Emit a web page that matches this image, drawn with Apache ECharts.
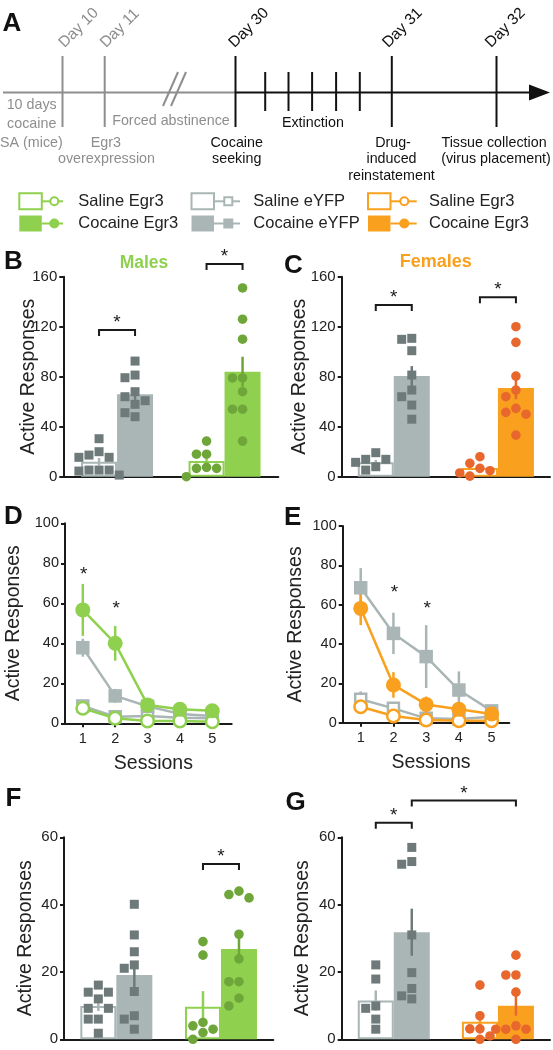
<!DOCTYPE html>
<html><head><meta charset="utf-8">
<script src="https://cdn.jsdelivr.net/npm/echarts@6/dist/echarts.min.js"></script>
<style>html,body{margin:0;padding:0;background:#fff}#c{width:553px;height:1050px}</style>
</head><body><div id="c"></div>
<script>
// ---------------- data ----------------
const groups = ['eYFP', 'Egr3'];
const sessions = [1, 2, 3, 4, 5];

// B: males, cocaine seeking (order per array: [eYFP, Egr3])
const bSalineMean = [12, 12.5];
const bSalineSem = [3, 4];
const bCocaineMean = [66, 84];
const bCocaineSem = [4.5, 12];
const bSalEyfpPts = [30.4, 20, 15.5, 15.5, 17.3, 5.3, 4.5, 5.3, 5.3, 1.3];
const bCocEyfpPts = [92.5, 81.3, 79.2, 68, 64, 60.8, 57.9, 51.2, 48];
const bSalEgr3Pts = [28.5, 18, 18, 6.7, 6.7, 7.5, 0];
const bCocEgr3Pts = [151, 126, 110, 79, 79, 68, 54, 54, 28.5];
const bBrackets = [[0, 1, 117.4], [2, 3, 170.2]];

// C: females, cocaine seeking
const cSalineMean = [11.5, 7];
const cSalineSem = [2, 2.5];
const cCocaineMean = [80.5, 71];
const cCocaineSem = [8, 9];
const cSalEyfpPts = [13.9, 11.5, 13.9, 19.2, 5.3, 8];
const cCocEyfpPts = [110.7, 109.9, 100.8, 81.3, 69.3, 64, 57.3, 46];
const cSalEgr3Pts = [16, 10.7, 4.8, 6.7, 0.5, 3];
const cCocEgr3Pts = [120, 107.5, 80.5, 69.3, 64, 54.7, 51.5, 50, 33.3];
const cBrackets = [[0, 1, 137.4], [2, 3, 143.6]];

// D: males, extinction sessions
const dSalEyfp = [8.7, 3.3, 3.7, 2.8, 2.5];
const dSalEyfpSem = [2, 0.8, 0.8, 0.6, 0.6];
const dCocEyfp = [37.8, 13.7, 8.5, 4.7, 3.7];
const dCocEyfpSem = [4.5, 3.5, 1.5, 1, 0.8];
const dSalEgr3 = [7.5, 2.5, 1.2, 1.2, 0.8];
const dSalEgr3Sem = [2, 0.8, 0.5, 0.4, 0.4];
const dCocEgr3 = [56.7, 40, 9.2, 7, 6.3];
const dCocEgr3Sem = [13, 8.7, 1.5, 1.5, 1.2];
const dStars = [[1, 76.7], [2, 60]];

// E: females, extinction sessions
const eSalEyfp = [11.9, 7.3, 2.2, 1.9, 3];
const eSalEyfpSem = [4, 1.5, 0.8, 0.6, 0.8];
const eCocEyfp = [68.6, 45.4, 33.6, 16.6, 6];
const eCocEyfpSem = [10, 10.5, 16, 9.5, 2];
const eSalEgr3 = [8.1, 3.4, 1.4, 1, 1];
const eSalEgr3Sem = [2, 0.8, 0.5, 0.4, 0.4];
const eCocEgr3 = [58.1, 19.2, 9.3, 6.8, 4.4];
const eCocEgr3Sem = [8.5, 6.5, 4, 2, 2];
const eStars = [[2, 68.8], [3, 60.7]];

// F: males, drug-induced reinstatement
const fSalineMean = [9.9, 9.7];
const fSalineSem = [1.5, 4.6];
const fCocaineMean = [19.1, 26.8];
const fCocaineSem = [4, 3.8];
const fSalEyfpPts = [14, 16.1, 14, 12, 9.2, 9.2, 6, 6, 1.8];
const fCocEyfpPts = [40.1, 31, 26, 22.1, 21.1, 14.2, 7, 6, 3];
const fSalEgr3Pts = [29, 25, 4, 3, 2, 5, 0];
const fCocEgr3Pts = [44, 42, 43, 31.2, 23.9, 17.1, 17.1, 12.2, 9.9];
const fBrackets = [[2, 3, 52.1]];

// G: females, drug-induced reinstatement
const gSalineMean = [11.5, 5.2];
const gSalineSem = [3, 2];
const gCocaineMean = [31.8, 10];
const gCocaineSem = [7, 3];
const gSalEyfpPts = [22.1, 17.9, 9.2, 9.9, 6, 3];
const gCocEyfpPts = [57, 52, 52.8, 31, 19.8, 15.1, 12, 12.9];
const gSalEgr3Pts = [16.1, 7, 3.1, 3.1, 1, 0];
const gCocEgr3Pts = [25, 19.1, 19.1, 14, 3, 3, 4, 0, 3];
const gBrackets = [[0, 1, 64.3], [1, 3, 70.9]];

// texts
const legendLabels = ['Saline Egr3', 'Cocaine Egr3', 'Saline eYFP', 'Cocaine eYFP', 'Saline Egr3', 'Cocaine Egr3'];
const dayLabels = ['Day 10', 'Day 11', 'Day 30', 'Day 31', 'Day 32'];

// ---------------- style ----------------
const FONT = '"Liberation Sans", Arial, Helvetica, sans-serif';
const INK = '#1a1a1a';
const GREEN = '#8fd14f', GRAY = '#a9b6b5', ORANGE = '#f9a01f';
const GREEN_PT = '#6ea63a', GRAY_PT = '#6e7a79', ORANGE_PT = '#e8672c';
const TL_GRAY = '#8e8e8e';
const BAR_W = 36;
const PT = 9;

const chart = echarts.init(document.getElementById('c'), null, {renderer: 'canvas'});

const grids = [], xAxes = [], yAxes = [], series = [];

function swarm(values, pxPerUnit) {
  const placed = [], offs = new Array(values.length).fill(0);
  const order = values.map((v, i) => i).sort((a, b) => values[b] - values[a]);
  const step = PT * 1.12;
  for (const i of order) {
    const y = values[i] * pxPerUnit;
    for (let k = 0; k < 30; k++) {
      const cand = k === 0 ? 0 : (k % 2 ? -1 : 1) * Math.ceil(k / 2) * step;
      if (placed.every(p => Math.hypot(p.x - cand, p.y - y) >= PT * 1.08)) {
        offs[i] = cand; placed.push({x: cand, y}); break;
      }
    }
  }
  return offs;
}

function yAxisCfg(gi, max, interval, nameGap, fs) {
  return {
    type: 'value', gridIndex: gi, min: 0, max: max, interval: interval,
    axisLine: {show: true, lineStyle: {color: INK, width: 2}},
    axisTick: {show: true, length: 4, lineStyle: {color: INK, width: 2}},
    axisLabel: {fontSize: fs, color: '#222', fontFamily: FONT, margin: 6},
    splitLine: {show: false},
    name: 'Active Responses', nameLocation: 'middle', nameGap: nameGap, nameMoveOverlap: false,
    nameTextStyle: {fontSize: 19.5, color: '#222', fontFamily: FONT}
  };
}

const barPanels = [
  {grid: [63.3, 276.7, 215, 200], yMax: 160, yInt: 40, nameGap: 25, sc: GREEN, sp: GREEN_PT,
   sal: bSalineMean, salE: bSalineSem, coc: bCocaineMean, cocE: bCocaineSem,
   pts: [bSalEyfpPts, bCocEyfpPts, bSalEgr3Pts, bCocEgr3Pts], br: bBrackets},
  {grid: [341.7, 276.7, 208.3, 200], yMax: 160, yInt: 40, nameGap: 32.5, sc: ORANGE, sp: ORANGE_PT,
   sal: cSalineMean, salE: cSalineSem, coc: cCocaineMean, cocE: cCocaineSem,
   pts: [cSalEyfpPts, cCocEyfpPts, cSalEgr3Pts, cCocEgr3Pts], br: cBrackets},
  {grid: [64, 837.3, 209.3, 202], yMax: 60, yInt: 20, nameGap: 28, sc: GREEN, sp: GREEN_PT,
   sal: fSalineMean, salE: fSalineSem, coc: fCocaineMean, cocE: fCocaineSem,
   pts: [fSalEyfpPts, fCocEyfpPts, fSalEgr3Pts, fCocEgr3Pts], br: fBrackets},
  {grid: [341.7, 837.3, 208.3, 202], yMax: 60, yInt: 20, nameGap: 29, sc: ORANGE, sp: ORANGE_PT,
   sal: gSalineMean, salE: gSalineSem, coc: gCocaineMean, cocE: gCocaineSem,
   pts: [gSalEyfpPts, gCocEyfpPts, gSalEgr3Pts, gCocEgr3Pts], br: gBrackets}
];

function barX(api, idx, y) {
  const g = Math.floor(idx / 2), side = idx % 2;
  return api.coord([g + 0.5, y])[0] + (side ? 1 : -1) * BAR_W / 2;
}

barPanels.forEach(p => {
  const gi = grids.length;
  grids.push({left: p.grid[0], top: p.grid[1], width: p.grid[2], height: p.grid[3]});
  const xc = xAxes.length;
  xAxes.push({type: 'category', gridIndex: gi, data: groups,
    axisLine: {lineStyle: {color: INK, width: 2}}, axisTick: {show: false}, axisLabel: {show: false}});
  const xv = xAxes.length;
  xAxes.push({type: 'value', gridIndex: gi, min: 0, max: 2, show: false});
  const yi = yAxes.length;
  yAxes.push(yAxisCfg(gi, p.yMax, p.yInt, p.nameGap, 15));
  const colors = [GRAY, p.sc], ptColors = [GRAY_PT, p.sp];
  series.push({type: 'bar', name: 'Saline', xAxisIndex: xc, yAxisIndex: yi, barWidth: BAR_W, barGap: '0%', silent: true,
    data: p.sal.map((v, i) => ({value: v, itemStyle: {color: '#fff', borderColor: colors[i], borderWidth: 2}}))});
  series.push({type: 'bar', name: 'Cocaine', xAxisIndex: xc, yAxisIndex: yi, barWidth: BAR_W, barGap: '0%', silent: true,
    data: p.coc.map((v, i) => ({value: v, itemStyle: {color: colors[i]}}))});
  // error bars
  const errData = [];
  groups.forEach((g, i) => { errData.push([i, 0, p.sal[i], p.salE[i]]); errData.push([i, 1, p.coc[i], p.cocE[i]]); });
  series.push({type: 'custom', xAxisIndex: xv, yAxisIndex: yi, silent: true, z: 3, data: errData,
    renderItem: (params, api) => {
      const g = api.value(0), side = api.value(1), m = api.value(2), e = api.value(3);
      const a = api.coord([g + 0.5, Math.max(0, m - e)]), b = api.coord([g + 0.5, m + e]);
      const x = a[0] + (side ? 1 : -1) * BAR_W / 2;
      const col = side === 0 ? colors[g] : ptColors[g];
      return {type: 'line', shape: {x1: x, y1: a[1], x2: x, y2: b[1]}, style: {stroke: col, lineWidth: 2.5}};
    }});
  // individual points
  const pxPerUnit = p.grid[3] / p.yMax;
  const ptData = [];
  p.pts.forEach((arr, k) => {
    const offs = swarm(arr, pxPerUnit);
    arr.forEach((v, j) => ptData.push([Math.floor(k / 2), k % 2, v, offs[j]]));
  });
  series.push({type: 'custom', xAxisIndex: xv, yAxisIndex: yi, silent: true, z: 4, data: ptData,
    renderItem: (params, api) => {
      const g = api.value(0), side = api.value(1), v = api.value(2), off = api.value(3);
      const c = api.coord([g + 0.5, v]);
      const x = c[0] + (side ? 1 : -1) * BAR_W / 2 + off;
      if (g === 0) return {type: 'rect', shape: {x: x - PT / 2, y: c[1] - PT / 2, width: PT, height: PT}, style: {fill: ptColors[0]}};
      return {type: 'circle', shape: {cx: x, cy: c[1], r: PT / 2 + 0.3}, style: {fill: ptColors[1]}};
    }});
  // significance brackets
  series.push({type: 'custom', xAxisIndex: xv, yAxisIndex: yi, silent: true, z: 5, data: p.br,
    renderItem: (params, api) => {
      const i = api.value(0), j = api.value(1), y = api.value(2);
      const xa = barX(api, i, y), xb = barX(api, j, y), yp = api.coord([0, y])[1];
      return {type: 'group', children: [
        {type: 'polyline', shape: {points: [[xa, yp + 6], [xa, yp], [xb, yp], [xb, yp + 6]]}, style: {stroke: INK, lineWidth: 2, fill: 'none'}},
        {type: 'text', style: {text: '*', x: (xa + xb) / 2, y: yp - 7, align: 'center', verticalAlign: 'middle', fontSize: 19, fontFamily: FONT, fill: INK}}
      ]};
    }});
});

const linePanels = [
  {grid: [65, 523.3, 166.7, 200], xMax: 5.6, nameGap: 41, sc: GREEN,
   lines: [[dSalEyfp, dSalEyfpSem], [dCocEyfp, dCocEyfpSem], [dSalEgr3, dSalEgr3Sem], [dCocEgr3, dCocEgr3Sem]], stars: dStars},
  {grid: [342.7, 526, 166.6, 196.7], xMax: 5.54, nameGap: 37.5, sc: ORANGE,
   lines: [[eSalEyfp, eSalEyfpSem], [eCocEyfp, eCocEyfpSem], [eSalEgr3, eSalEgr3Sem], [eCocEgr3, eCocEgr3Sem]], stars: eStars}
];

linePanels.forEach(p => {
  const gi = grids.length;
  grids.push({left: p.grid[0], top: p.grid[1], width: p.grid[2], height: p.grid[3]});
  const xi = xAxes.length;
  xAxes.push({type: 'value', gridIndex: gi, min: 0.45, max: p.xMax,
    axisLine: {onZero: false, lineStyle: {color: INK, width: 2}},
    axisTick: {show: true, customValues: sessions, length: 4, lineStyle: {color: INK, width: 2}},
    axisLabel: {customValues: sessions, fontSize: 14.5, color: '#222', fontFamily: FONT, margin: 8},
    splitLine: {show: false},
    name: 'Sessions', nameLocation: 'middle', nameGap: 30, nameMoveOverlap: false,
    nameTextStyle: {fontSize: 19.5, color: '#222', fontFamily: FONT, padding: [0, 0, 0, 10]}});
  const yi = yAxes.length;
  yAxes.push(yAxisCfg(gi, 100, 20, p.nameGap, 14.5));
  const styles = [
    {color: GRAY, symbol: 'rect', size: 11, open: true},
    {color: GRAY, symbol: 'rect', size: 13.5, open: false},
    {color: p.sc, symbol: 'circle', size: 12.5, open: true},
    {color: p.sc, symbol: 'circle', size: 15, open: false}
  ];
  p.lines.forEach((ln, k) => {
    const st = styles[k];
    series.push({type: 'custom', xAxisIndex: xi, yAxisIndex: yi, silent: true, z: 2,
      data: sessions.map((s, i) => [s, ln[0][i], ln[1][i]]),
      renderItem: (params, api) => {
        const s = api.value(0), m = api.value(1), e = api.value(2);
        const a = api.coord([s, Math.max(0, m - e)]), b = api.coord([s, m + e]);
        return {type: 'line', shape: {x1: a[0], y1: a[1], x2: b[0], y2: b[1]}, style: {stroke: st.color, lineWidth: 2.5}};
      }});
  });
  p.lines.forEach((ln, k) => {
    const st = styles[k];
    series.push({type: 'line', xAxisIndex: xi, yAxisIndex: yi, silent: true, z: 3,
      data: sessions.map((s, i) => [s, ln[0][i]]),
      symbol: st.symbol, symbolSize: st.size, showAllSymbol: true,
      lineStyle: {color: st.color, width: 2.5},
      itemStyle: st.open ? {color: '#fff', borderColor: st.color, borderWidth: 2.5} : {color: st.color, borderWidth: 0}});
  });
  series.push({type: 'custom', xAxisIndex: xi, yAxisIndex: yi, silent: true, z: 5, data: p.stars,
    renderItem: (params, api) => {
      const c = api.coord([api.value(0), api.value(1)]);
      return {type: 'text', style: {text: '*', x: c[0] + 1, y: c[1] + 5, align: 'center', verticalAlign: 'middle', fontSize: 19, fontFamily: FONT, fill: INK}};
    }});
});

// ---------------- timeline day labels (rotated axis labels on a hidden top axis) ----------------
const bigTicks = [62.5, 104.7, 235.5, 391.8, 496.5];
const bigColors = [TL_GRAY, TL_GRAY, '#111', '#111', '#111'];
function nearestTick(v) {
  let best = 0;
  bigTicks.forEach((t, i) => { if (Math.abs(t - v) < Math.abs(bigTicks[best] - v)) best = i; });
  return best;
}
{
  const gi = grids.length;
  grids.push({left: -9.4, top: 45.3, width: 553, height: 10});
  xAxes.push({type: 'value', gridIndex: gi, position: 'top', min: 0, max: 553,
    axisLine: {show: false}, axisTick: {show: false}, splitLine: {show: false},
    axisLabel: {customValues: bigTicks, rotate: 45, margin: 0, fontSize: 15.5, fontFamily: FONT,
      formatter: v => dayLabels[nearestTick(v)],
      color: v => bigColors[nearestTick(v)]}});
  yAxes.push({type: 'value', gridIndex: gi, show: false});
}

// ---------------- panel A timeline & legend (graphics) ----------------
const G = [];
function txt(t, x, y, o) {
  o = o || {};
  G.push({type: 'text', x: x, y: y, z: 100, silent: true,
    style: {text: t, x: 0, y: 0, align: o.align || 'center', verticalAlign: o.va || 'middle',
      fontSize: o.fs || 14.3, fontWeight: o.fw || 'normal', fontFamily: FONT, fill: o.color || '#222'}});
}
function seg(x1, y1, x2, y2, color, w) {
  G.push({type: 'line', z: 100, silent: true, shape: {x1, y1, x2, y2}, style: {stroke: color, lineWidth: w || 2}});
}
const TLY = 92.5;
seg(3, TLY, 236, TLY, TL_GRAY);
seg(235, TLY, 532, TLY, '#111');
G.push({type: 'polygon', z: 100, silent: true, shape: {points: [[529, 84.5], [550, TLY], [529, 100.5]]}, style: {fill: '#111'}});
bigTicks.forEach((x, i) => seg(x, 56, x, 127, bigColors[i]));
[265.2, 288.5, 312.1, 336.1, 359.8].forEach(x => seg(x, 72, x, 111, '#111'));
seg(163, 106, 178, 72, TL_GRAY);
seg(171, 106, 186, 72, TL_GRAY);
txt('10 days', 31.7, 104.8, {color: TL_GRAY});
txt('cocaine', 31.7, 124.2, {color: TL_GRAY});
txt('SA (mice)', 31.4, 142.8, {color: TL_GRAY});
txt('Egr3', 105.8, 142.8, {color: TL_GRAY});
txt('overexpression', 106.5, 159.4, {color: TL_GRAY});
txt('Forced abstinence', 171, 121, {color: TL_GRAY});
txt('Cocaine', 236.7, 142.8, {color: '#111'});
txt('seeking', 236.7, 159.4, {color: '#111'});
txt('Extinction', 312.9, 123.4, {color: '#111'});
txt('Drug-', 393, 142.8, {color: '#111'});
txt('induced', 391.5, 159.4, {color: '#111'});
txt('reinstatement', 391.5, 176, {color: '#111'});
txt('Tissue collection', 494, 142.8, {color: '#111'});
txt('(virus placement)', 496, 159.4, {color: '#111'});

// legend
const legendCols = [
  {rx: 19.3, lx1: 42, lx2: 63, mx: 54.3, shape: 'circle', color: GREEN, tx: 78.3},
  {rx: 191.5, lx1: 213.5, lx2: 240, mx: 228.3, shape: 'rect', color: GRAY, tx: 253.3},
  {rx: 368, lx1: 390.5, lx2: 416.7, mx: 404.3, shape: 'circle', color: ORANGE, tx: 429}
];
const legendRows = [201.3, 223.5];
legendCols.forEach((c, ci) => {
  legendRows.forEach((y, ri) => {
    const open = ri === 0;
    G.push({type: 'rect', z: 100, silent: true, shape: {x: c.rx, y: y - 8, width: 22.5, height: 16},
      style: open ? {fill: '#fff', stroke: c.color, lineWidth: 2} : {fill: c.color}});
    seg(c.lx1, y, c.lx2, y, c.color, 2);
    const r = open ? 4 : 5;
    if (c.shape === 'circle') {
      G.push({type: 'circle', z: 101, silent: true, shape: {cx: c.mx, cy: y, r: r},
        style: open ? {fill: '#fff', stroke: c.color, lineWidth: 2} : {fill: c.color}});
    } else {
      G.push({type: 'rect', z: 101, silent: true, shape: {x: c.mx - r, y: y - r, width: 2 * r, height: 2 * r},
        style: open ? {fill: '#fff', stroke: c.color, lineWidth: 2} : {fill: c.color}});
    }
    txt(legendLabels[ci * 2 + ri], c.tx, y, {align: 'left', fs: 16.5, color: '#222'});
  });
});

// panel letters and titles
const letterOpts = {align: 'left', fs: 26, fw: 'bold', color: '#111'};
txt('A', 2.5, 23.7, letterOpts);
txt('B', 4, 262.3, letterOpts);
txt('C', 284, 265.8, letterOpts);
txt('D', 4, 516.7, letterOpts);
txt('E', 284, 517.5, letterOpts);
txt('F', 5.5, 799, letterOpts);
txt('G', 285.5, 802.5, letterOpts);
txt('Males', 144, 263.3, {fs: 17.5, fw: 'bold', color: GREEN});
txt('Females', 435.8, 262.5, {fs: 18, fw: 'bold', color: ORANGE});

chart.setOption({
  animation: false,
  backgroundColor: '#fff',
  textStyle: {fontFamily: FONT},
  grid: grids, xAxis: xAxes, yAxis: yAxes, series: series,
  graphic: {elements: G}
});
</script></body></html>
